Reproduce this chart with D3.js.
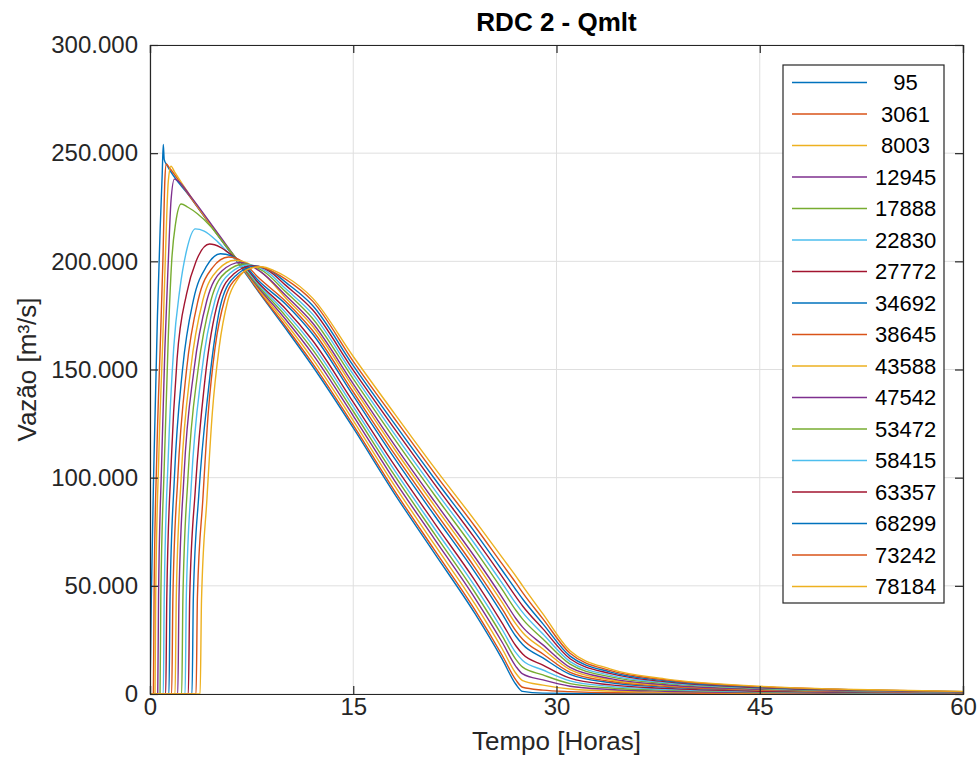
<!DOCTYPE html>
<html>
<head>
<meta charset="utf-8">
<script src="https://cdn.jsdelivr.net/npm/d3@7"></script>
<style>
  body { margin: 0; background: #fff; }
  svg { font-family: "Liberation Sans", Arial, Helvetica, sans-serif; }
</style>
</head>
<body>
<div id="chart"></div>
<script>
// Station names (legend), one hydrograph per station
var stations = ['95', '3061', '8003', '12945', '17888', '22830', '27772', '34692', '38645',
  '43588', '47542', '53472', '58415', '63357', '68299', '73242', '78184'];

// MATLAB default colour order
var lineColors = ['#0072BD', '#D95319', '#EDB120', '#7E2F8E', '#77AC30', '#4DBEEE', '#A2142F'];

// Axis ticks
var xTicks = [0, 15, 30, 45, 60];
var yTicks = [0, 50000, 100000, 150000, 200000, 250000, 300000];
var yTickLabels = ['0', '50.000', '100.000', '150.000', '200.000', '250.000', '300.000'];

// Hydrographs: [time (h), flow (thousand m3/s)]
var q95 = [[0,0],[0.05,20],[0.1,45],[0.3,110],[0.55,175],[0.75,215],[0.9,240],[0.98,254],[1.05,247],[1.25,244.5],[3,229.5],[5,212],[6.7,197.5],[8,186],[10,169],[12,151.5],[15,123],[18,93],[21,65],[24,37],[26,16],[27,4.5],[27.5,1.2],[29,0.4],[31,0.3],[34,0.2],[38,0.2],[45,0.1],[52,0.1],[60,0.1]];
var q3061 = [[0,0],[0.25,0],[0.3,45],[0.5,110],[0.75,160],[0.95,200],[1.1,238],[1.2,245],[1.4,243.5],[3,229.5],[5,212.3],[6.7,198],[8,186.4],[10,170],[12,152.8],[15,124.3],[18,94.4],[21,66.5],[24,38.7],[26,17.8],[27,6.5],[27.5,3.1],[29,1.8],[31,1.1],[34,0.6],[38,0.5],[45,0.2],[52,0.2],[60,0.1]];
var q8003 = [[0,0],[0.37,0],[0.42,45],[0.65,110],[0.95,165],[1.15,205],[1.35,237],[1.55,244],[1.8,241.5],[3,230],[5,212.5],[6.7,198.2],[8,187.2],[10,171.6],[12,154.9],[15,126.4],[18,96.8],[21,69],[24,41.4],[26,20.8],[27,9.6],[27.5,6.2],[29,4.1],[31,2.3],[34,1.4],[38,0.9],[45,0.5],[52,0.3],[60,0.2]];
var q12945 = [[0,0],[0.57,0],[0.63,45],[0.85,105],[1.1,160],[1.35,200],[1.55,228],[1.8,238],[2.1,237],[3,230],[5,213],[6.7,198.5],[8,187.9],[10,173.2],[12,157.1],[15,128.6],[18,99.1],[21,71.6],[24,44.1],[26,23.8],[27,12.8],[27.5,9.3],[29,6.5],[31,3.6],[34,2.1],[38,1.3],[45,0.7],[52,0.4],[60,0.3]];
var q17888 = [[0,0],[0.74,0],[0.8,45],[1.05,105],[1.35,165],[1.6,200],[1.9,218],[2.3,226.5],[2.8,225],[3.5,222],[4.5,216],[5.5,208],[6.7,198.8],[8,188.6],[10,174.8],[12,159.2],[15,130.7],[18,101.5],[21,74],[24,46.8],[26,26.8],[27,16],[27.5,12.4],[29,8.8],[31,4.8],[34,2.8],[38,1.8],[45,0.9],[52,0.6],[60,0.4]];
var q22830 = [[0,0],[0.98,0],[1.05,45],[1.35,110],[1.75,160],[2.2,187],[2.7,205],[3.35,215],[4,214],[5,209],[6,202.5],[6.8,198.5],[8,189.4],[10,176.4],[12,161.3],[15,132.8],[18,103.8],[21,76.5],[24,49.6],[26,29.7],[27,19.1],[27.5,15.5],[29,11.1],[31,6.1],[34,3.5],[38,2.2],[45,1.1],[52,0.7],[60,0.4]];
var q27772 = [[0,0],[1.16,0],[1.24,45],[1.55,105],[2,155],[2.7,185],[3.4,200],[4.4,208],[5.2,206.5],[6,203],[6.8,199],[8,190.1],[10,178.1],[12,163.4],[15,134.9],[18,106.1],[21,79],[24,52.3],[26,32.7],[27,22.3],[27.5,18.5],[29,13.4],[31,7.3],[34,4.2],[38,2.6],[45,1.3],[52,0.8],[60,0.5]];
var q34692 = [[0,0],[1.4,0],[1.48,45],[1.8,100],[2.4,150],[3.2,182],[4.2,198],[5.2,203.5],[6,202.5],[6.8,199.5],[8,191.1],[10,180.3],[12,166.4],[15,137.9],[18,109.4],[21,82.5],[24,56.1],[26,36.9],[27,26.7],[27.5,22.9],[29,16.7],[31,9.1],[34,5.2],[38,3.2],[45,1.7],[52,1],[60,0.6]];
var q38645 = [[0,0],[1.6,0],[1.69,45],[2.05,100],[2.7,150],[3.55,182],[4.6,197],[5.8,202],[6.8,200],[8,192.5],[10,181.6],[12,168],[15,139.6],[18,111.3],[21,84.5],[24,58.2],[26,39.2],[27,29.2],[27.5,25.3],[29,18.5],[31,10],[34,5.8],[38,3.6],[45,1.8],[52,1.1],[60,0.6]];
var q43588 = [[0,0],[1.85,0],[1.94,45],[2.3,100],[3,150],[3.9,182],[5,196],[6.3,200.5],[7.2,199.2],[8.4,194],[10,183.2],[12,170],[15,141.7],[18,113.6],[21,87],[24,61],[26,42.2],[27,32.4],[27.5,28.4],[29,20.8],[31,11.3],[34,6.5],[38,4],[45,2.1],[52,1.2],[60,0.7]];
var q47542 = [[0,0],[2.05,0],[2.14,45],[2.5,100],[3.25,150],[4.2,182],[5.3,195.5],[6.7,199.5],[8.2,195],[10,184.3],[12,171.5],[15,143.4],[18,115.5],[21,89],[24,63.1],[26,44.6],[27,34.9],[27.5,30.9],[29,22.7],[31,12.3],[34,7.1],[38,4.3],[45,2.2],[52,1.3],[60,0.8]];
var q53472 = [[0,0],[2.34,0],[2.43,45],[2.8,100],[3.55,150],[4.5,182],[5.6,195],[7,198.8],[8.4,195.3],[10,186],[12,173.6],[15,145.7],[18,118.3],[21,92],[24,66.4],[26,48.2],[27,38.7],[27.5,34.6],[29,25.4],[31,13.8],[34,7.9],[38,4.9],[45,2.5],[52,1.5],[60,0.9]];
var q58415 = [[0,0],[2.59,0],[2.68,45],[3.05,97],[3.8,148],[4.8,182],[5.9,194.5],[7.3,198.3],[8.6,195.4],[10,187.4],[12,175.6],[15,147.7],[18,120.6],[21,94.5],[24,69.1],[26,51.1],[27,41.9],[27.5,37.7],[29,27.7],[31,15],[34,8.6],[38,5.3],[45,2.7],[52,1.6],[60,0.9]];
var q63357 = [[0,0],[2.83,0],[2.93,45],[3.35,95],[4.05,145],[5.05,182],[6.15,194],[7.6,198],[8.8,195.5],[10,189],[12,177.6],[15,149.7],[18,123],[21,97],[24,71.8],[26,54.1],[27,45],[27.5,40.7],[29,30.1],[31,16.3],[34,9.4],[38,5.7],[45,2.9],[52,1.7],[60,1]];
var q68299 = [[0,0],[3.1,0],[3.2,45],[3.6,92],[4.3,140],[5.3,182],[6.35,193.5],[7.8,197.8],[9,195.2],[10,190.4],[12,179.6],[15,151.8],[18,125.3],[21,99.5],[24,74.6],[26,57.1],[27,48.2],[27.5,43.9],[29,32.4],[31,17.5],[34,10.1],[38,6.1],[45,3.2],[52,1.9],[60,1.1]];
var q73242 = [[0,0],[3.4,0],[3.5,45],[3.9,90],[4.3,130],[4.8,160],[5.5,182],[6.5,193],[8,197.6],[9.2,194.8],[10,191.8],[12,181.6],[15,153.8],[18,127.7],[21,102],[24,77.3],[26,60],[27,51.4],[27.5,46.9],[29,34.7],[31,18.8],[34,10.8],[38,6.6],[45,3.4],[52,2],[60,1.1]];
var q78184 = [[0,0],[3.7,0],[3.8,43],[4.2,90],[4.6,130],[5.1,160],[5.75,182],[6.5,192],[7.3,196.5],[8.2,197.5],[9.2,195.6],[10,193],[12,183],[15,156],[18,130],[21,104.5],[24,80],[26,63],[27,54.5],[27.5,50],[29,37],[31,20],[34,11.5],[38,7],[45,3.6],[52,2.1],[60,1.2]];

var hydrographs = [q95, q3061, q8003, q12945, q17888, q22830, q27772, q34692, q38645,
  q43588, q47542, q53472, q58415, q63357, q68299, q73242, q78184];

var width = 979, height = 774;
var margin = { top: 45, right: 16, bottom: 80, left: 150 };
var plotW = width - margin.left - margin.right,
  plotH = height - margin.top - margin.bottom;
var axisColor = '#262626';

var svg = d3.select('#chart').append('svg')
  .attr('width', width)
  .attr('height', height);

svg.append('rect').attr('width', width).attr('height', height).attr('fill', '#fff');

var x = d3.scaleLinear().domain([0, 60]).range([margin.left, margin.left + plotW]);
var y = d3.scaleLinear().domain([0, 300000]).range([margin.top + plotH, margin.top]);

// Grid
var grid = svg.append('g');
grid.selectAll('.gx').data(xTicks).enter().append('line')
  .attr('x1', function (d) { return x(d); }).attr('x2', function (d) { return x(d); })
  .attr('y1', y(0)).attr('y2', y(300000))
  .attr('stroke', '#dfdfdf').attr('stroke-width', 1);
grid.selectAll('.gy').data(yTicks).enter().append('line')
  .attr('y1', function (d) { return y(d); }).attr('y2', function (d) { return y(d); })
  .attr('x1', x(0)).attr('x2', x(60))
  .attr('stroke', '#dfdfdf').attr('stroke-width', 1);

// Lines
svg.append('clipPath').attr('id', 'clip').append('rect')
  .attr('x', x(0)).attr('y', y(300000)).attr('width', plotW).attr('height', plotH);

var line = d3.line()
  .x(function (d) { return x(d[0]); })
  .y(function (d) { return y(d[1] * 1000); })
  .curve(d3.curveMonotoneX);

svg.append('g').attr('clip-path', 'url(#clip)')
  .selectAll('path').data(hydrographs).enter().append('path')
  .attr('d', line)
  .attr('fill', 'none')
  .attr('stroke', function (d, i) { return lineColors[i % lineColors.length]; })
  .attr('stroke-width', 1.4);

// Axes (ticks inside, mirrored on top/right like MATLAB box on)
var tickLen = 8;
var xAxis = svg.append('g').attr('transform', 'translate(0,' + y(0) + ')')
  .call(d3.axisBottom(x).tickValues(xTicks).tickSize(-tickLen).tickPadding(4));
var yAxis = svg.append('g').attr('transform', 'translate(' + x(0) + ',0)')
  .call(d3.axisLeft(y).tickValues(yTicks).tickSize(-tickLen).tickPadding(12)
    .tickFormat(function (d, i) { return yTickLabels[i]; }));
var xTop = svg.append('g').attr('transform', 'translate(0,' + y(300000) + ')')
  .call(d3.axisTop(x).tickValues(xTicks).tickSize(-tickLen).tickFormat(''));
var yRight = svg.append('g').attr('transform', 'translate(' + x(60) + ',0)')
  .call(d3.axisRight(y).tickValues(yTicks).tickSize(-tickLen).tickFormat(''));

[xAxis, yAxis, xTop, yRight].forEach(function (g) {
  g.selectAll('.domain').attr('stroke', axisColor).attr('stroke-width', 1.2);
  g.selectAll('.tick line').attr('stroke', axisColor).attr('stroke-width', 1.2);
  g.selectAll('.tick text').attr('fill', axisColor).style('font-size', '24px')
    .style('font-family', '"Liberation Sans", Arial, sans-serif');
});

// Title and labels
svg.append('text')
  .attr('x', (x(0) + x(60)) / 2).attr('y', 31)
  .attr('text-anchor', 'middle')
  .style('font-size', '26px').style('font-weight', 'bold').attr('fill', '#000')
  .text('RDC 2 - Qmlt');

svg.append('text')
  .attr('x', (x(0) + x(60)) / 2).attr('y', 750)
  .attr('text-anchor', 'middle')
  .style('font-size', '26px').attr('fill', axisColor)
  .text('Tempo [Horas]');

svg.append('text')
  .attr('transform', 'translate(36,' + ((y(0) + y(300000)) / 2) + ') rotate(-90)')
  .attr('text-anchor', 'middle')
  .style('font-size', '26px').attr('fill', axisColor)
  .text('Vazão [m³/s]');

// Legend
var legX = 783, legY = 65, legW = 161, legH = 538, rowH = 31.5;
var legend = svg.append('g');
legend.append('rect')
  .attr('x', legX).attr('y', legY).attr('width', legW).attr('height', legH)
  .attr('fill', '#fff').attr('stroke', axisColor).attr('stroke-width', 1.2);

var rows = legend.selectAll('.row').data(stations).enter().append('g')
  .attr('transform', function (d, i) { return 'translate(0,' + (legY + 17.5 + i * rowH) + ')'; });
rows.append('line')
  .attr('x1', legX + 9).attr('x2', legX + 84)
  .attr('stroke', function (d, i) { return lineColors[i % lineColors.length]; })
  .attr('stroke-width', 1.3);
rows.append('text')
  .attr('x', legX + 92).attr('dy', '0.36em')
  .attr('xml:space', 'preserve').style('white-space', 'pre')
  .style('font-size', '22px').attr('fill', '#000')
  .text(function (d) { return ('     ' + d).slice(-5); });
</script>
</body>
</html>
